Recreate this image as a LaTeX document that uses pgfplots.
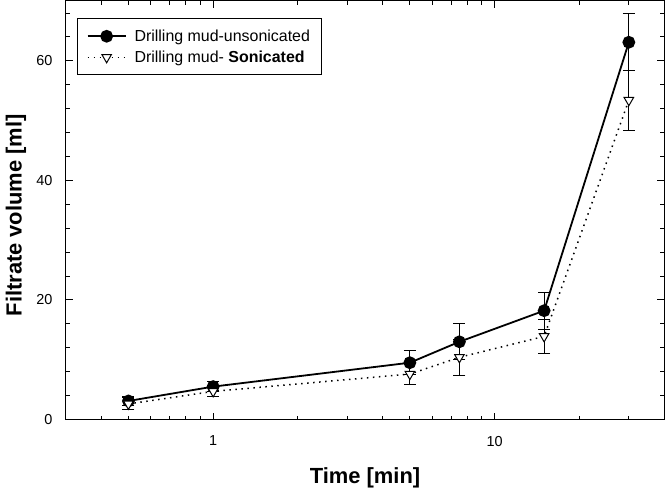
\documentclass[border=0pt]{standalone}
\usepackage{fontspec}
\setmainfont{Liberation Sans}
\usepackage{pgfplots}
\pgfplotsset{compat=1.18}

% Filtrate volume of the drilling mud, before and after sonication
\pgfplotstableread{
t    v     e
0.5  3.1   0.7
1    5.5   0.8
5    9.5   2.0
7.5  13.0  3.0
15   18.2  3.1
30   63.1  4.8
}\unsonicated
\pgfplotstableread{
t    v     e
0.5  2.6   1.0
1    4.7   0.8
5    7.6   1.7
7.5  10.4  3.0
15   13.9  2.9
30   53.4  5.0
}\sonicated

\begin{document}
\begin{tikzpicture}
\begin{axis}[
  at={(0,0)}, anchor=south west,
  scale only axis, width=598bp, height=418.5bp,
  xmode=log, xmin=0.3, xmax=40,
  ymin=0, ymax=70,
  xtick={1,10}, xticklabels={1,10},
  minor xtick={0.4,0.5,0.6,0.7,0.8,0.9,2,3,4,5,6,7,8,9,20,30},
  ytick={0,20,40,60},
  minor ytick={4,8,12,16,24,28,32,36,44,48,52,56,64,68},
  tick align=inside, xtick pos=both, ytick pos=both,
  major tick length=7bp, minor tick length=4bp,
  every tick/.style={line width=0.9bp, black},
  axis line style={line width=1bp},
  /pgf/number format/assume math mode=true,
  ticklabel style={font=\fontsize{14.5}{16}\selectfont},
  yticklabel style={xshift=-10bp},
  xticklabel style={yshift=-13bp},
  xlabel={Time [min]},
  ylabel={Filtrate volume [ml]},
  label style={font=\fontsize{22}{26}\selectfont\bfseries},
  xlabel style={at={(axis description cs:0.5,0)}, anchor=base, yshift=-63.5bp},
  ylabel style={at={(axis description cs:0,0.488)}, anchor=base, yshift=44.3bp},
  legend cell align=left,
  legend image code/.code={\draw[mark repeat=2,mark phase=2,#1] plot coordinates {(0bp,0bp) (19bp,0bp) (38bp,0bp)};},
  legend style={at={(rel axis cs:0,1)}, anchor=north west, xshift=11.3bp, yshift=-17.3bp,
    font=\fontsize{16}{19}\selectfont, draw=black, line width=0.9bp,
    inner xsep=9bp, inner ysep=9bp, row sep=4bp, column sep=6bp,
    nodes={inner sep=2bp}},
  error bars/error bar style={line width=1bp, black, solid},
  error bars/error mark options={rotate=90, mark size=6bp, line width=1bp, black, solid},
]
\addplot[black, line width=1.8bp, mark=*, mark size=5.5bp,
  error bars/.cd, y dir=both, y explicit]
  table[x=t, y=v, y error=e] {\unsonicated};
\addlegendentry{Drilling mud-unsonicated\hspace{9bp}}

\addplot[black, line width=1.5bp, dash pattern=on 1.5bp off 4.5bp,
  mark=triangle*, mark size=5.5bp,
  mark options={solid, fill=white, rotate=180, line width=1bp},
  error bars/.cd, y dir=both, y explicit]
  table[x=t, y=v, y error=e] {\sonicated};
\addlegendentry{Drilling mud- \textbf{Sonicated}}
\end{axis}
\pgfresetboundingbox
\path[use as bounding box] (-66bp,-69.5bp) rectangle (600bp,419.5bp);
\end{tikzpicture}
\end{document}
